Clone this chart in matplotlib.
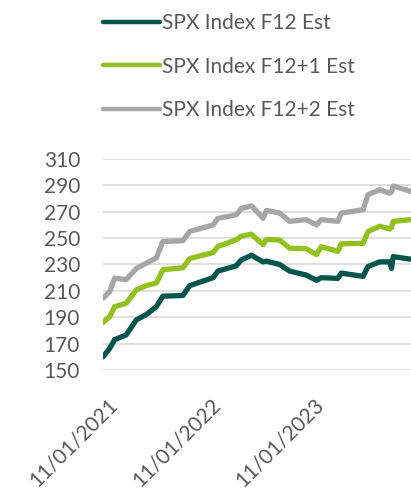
import matplotlib
matplotlib.use("Agg")
import matplotlib.pyplot as plt
import matplotlib.dates as mdates
import matplotlib.transforms as mtransforms
import pandas as pd

plt.rcParams['font.family'] = ['Lato', 'DejaVu Sans']

dates = ["2021-11-01", "2021-11-25", "2021-12-12", "2022-01-22", "2022-02-27",
         "2022-04-03", "2022-05-09", "2022-06-01", "2022-08-11", "2022-09-04",
         "2022-11-26", "2022-12-13", "2023-02-16", "2023-03-06", "2023-04-11",
         "2023-05-22", "2023-06-03", "2023-07-20", "2023-08-24", "2023-10-22",
         "2023-11-27", "2023-12-14", "2024-02-11", "2024-02-23", "2024-05-10",
         "2024-05-28", "2024-07-08", "2024-08-13", "2024-08-19", "2024-08-25",
         "2024-10-27"]

f12 = [160, 166.5, 173, 176.6, 188, 192, 198, 206, 206.5, 214,
       220, 225, 229, 233.5, 237, 232, 232.5, 230, 225, 222,
       218, 220, 219.5, 223.5, 221, 228.5, 232, 232, 227, 236, 234]
f12_1 = [186, 190.5, 198, 200.6, 210.8, 214, 216, 226, 227.5, 234.5,
         239, 243.7, 248.7, 251.5, 253, 245, 249, 248.5, 242.4, 242,
         237.5, 243.5, 240, 245.7, 246, 255, 259, 257, 258, 262.7, 264]
f12_2 = [204.4, 209.5, 219.6, 218.5, 227, 231, 235, 247.5, 248, 255,
         260, 265, 267.7, 272.5, 274.5, 265, 271, 269, 262.7, 264,
         260, 264, 262.7, 269, 271.5, 283, 286.7, 284, 285, 289.5, 285.4]

labels = ["SPX Index F12 Est", "SPX Index F12+1 Est", "SPX Index F12+2 Est"]
colors = ["#00554B", "#93C01F", "#A6A6A6"]
yticks = [150, 170, 190, 210, 230, 250, 270, 290, 310]
xticks = ["2021-11-01", "2022-11-01", "2023-11-01"]

x = pd.to_datetime(dates)
txt = "#595959"

fig = plt.figure(figsize=(4.11, 4.98), dpi=100)
ax = fig.add_axes([103/411, 1 - 370/498, 308/411, 211/498])

lines = []
for vals, c, lab in zip([f12, f12_1, f12_2], colors, labels):
    ln, = ax.plot(x, vals, color=c, lw=3.8, solid_capstyle='round',
                  solid_joinstyle='round', label=lab, zorder=3)
    lines.append(ln)

ax.set_ylim(150, 310)
ax.set_yticks(yticks)
ax.set_xlim(pd.Timestamp("2021-11-01"), pd.Timestamp("2024-10-27"))
ax.set_xticks(pd.to_datetime(xticks))
ax.xaxis.set_major_formatter(mdates.DateFormatter("%m/%d/%Y"))
ax.grid(axis='y', color='#D9D9D9', lw=1.2, zorder=0)
for s in ax.spines.values():
    s.set_visible(False)
ax.tick_params(axis='both', length=0, labelsize=15, colors=txt)
ax.tick_params(axis='y', pad=16.5)
ax.tick_params(axis='x', pad=17.5)
offset = mtransforms.ScaledTranslation(4/100, 0, fig.dpi_scale_trans)
for t in ax.get_xticklabels():
    t.set_rotation(45)
    t.set_ha('right')
    t.set_va('top')
    t.set_rotation_mode('anchor')
    t.set_transform(t.get_transform() + offset)

leg = fig.legend(handles=lines, labels=labels, loc='upper left',
                 bbox_to_anchor=(95/411, 1 - 5/498), frameon=False,
                 fontsize=15, labelcolor=txt, handlelength=2.7,
                 handletextpad=0.1, labelspacing=1.12, borderaxespad=0)
for h in leg.get_lines():
    h.set_linewidth(3.2)

fig.savefig("out.png", dpi=100)
